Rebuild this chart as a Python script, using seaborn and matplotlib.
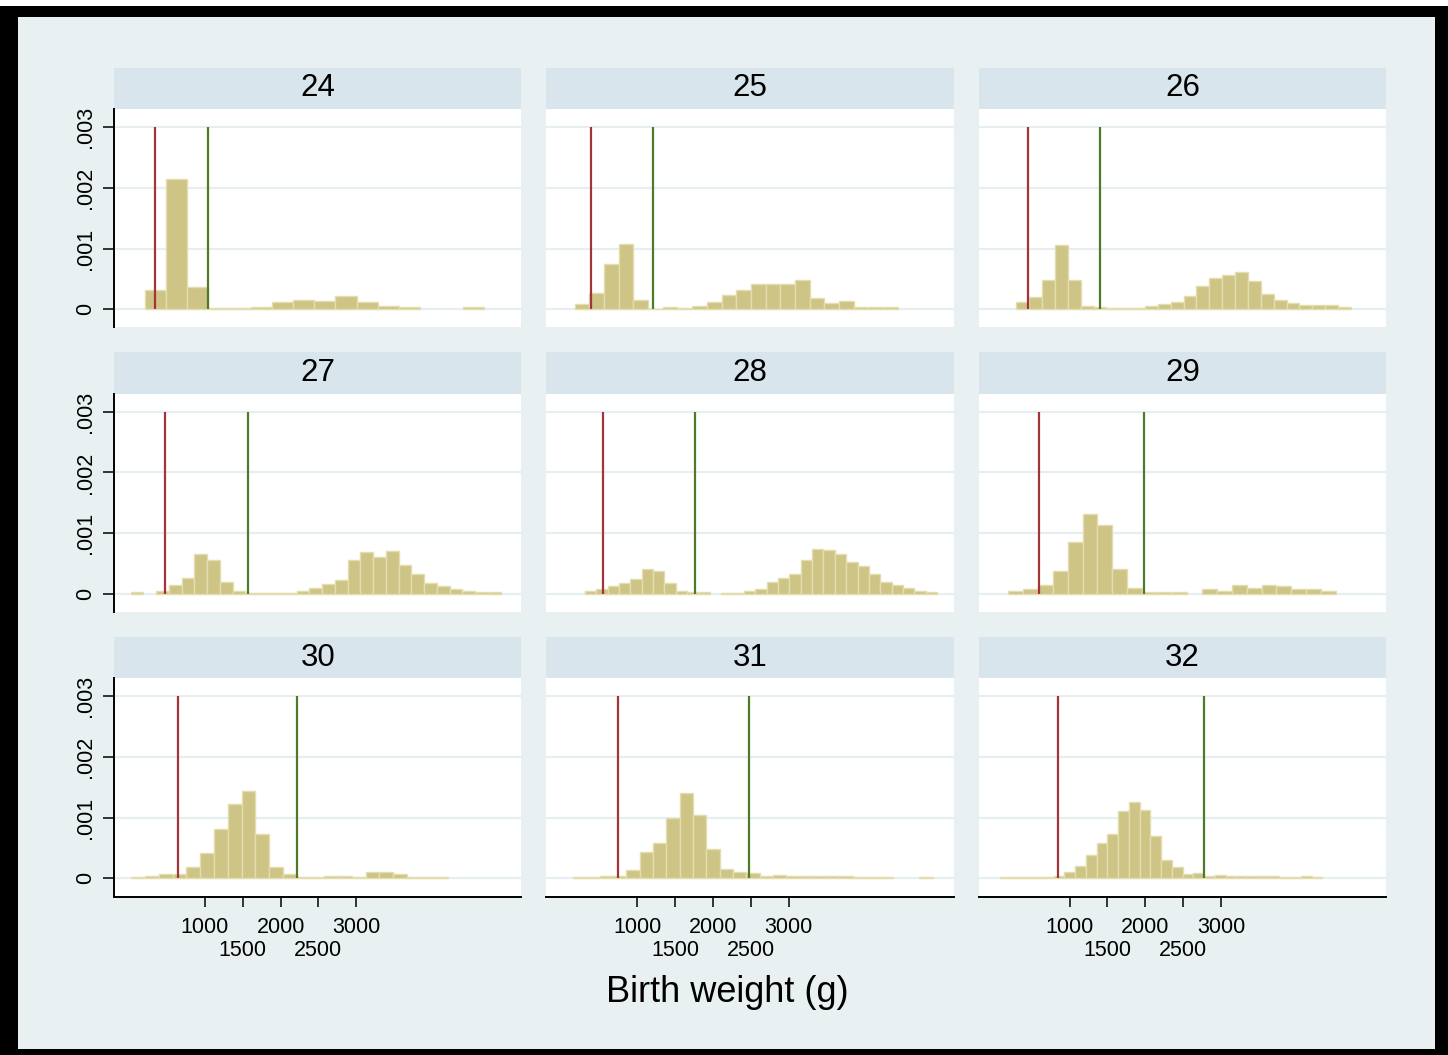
import numpy as np
import pandas as pd
import seaborn as sns
import matplotlib.pyplot as plt
from matplotlib.patches import Rectangle

# Birth weight histograms by gestational age (weeks)
ga_weeks = [24, 25, 26, 27, 28, 29, 30, 31, 32]

# bins per panel (g): first edge and bin width
bin_start = [205, 174, 297, 20, 310, 187, 29, 152, 81]
bin_width = [280, 194, 170, 168.5, 150, 197, 182, 176, 142]

# densities
dens_24 = [0.00032, 0.00215, 0.00037, 0.00002, 0.00002, 0.00004, 0.00012, 0.00015,
           0.00013, 0.00021, 0.00012, 0.00006, 0.00003, 0, 0, 0.00003]
dens_25 = [0.00008, 0.00026, 0.00074, 0.00108, 0.00015, 0.00001, 0.00003, 0.00002,
           0.00005, 0.00012, 0.00024, 0.00032, 0.00042, 0.00042, 0.00042, 0.00048,
           0.00019, 0.0001, 0.00013, 0.00003, 0.00003, 0.00003]
dens_26 = [0.00012, 0.0002, 0.00048, 0.00106, 0.00048, 0.00006, 0.00004, 0.00002,
           0.00002, 0.00002, 0.00006, 0.00008, 0.00012, 0.00021, 0.00039, 0.00052,
           0.00056, 0.00061, 0.00047, 0.00025, 0.00015, 0.0001, 0.00007, 0.00007,
           0.00007, 0.00004]
dens_27 = [0.00003, 0, 0.00005, 0.00014, 0.00026, 0.00066, 0.00055, 0.00019,
           0.00005, 0.00002, 0.00002, 0.00002, 0.00002, 0.00004, 0.0001, 0.00016,
           0.00023, 0.00056, 0.00069, 0.0006, 0.0007, 0.00048, 0.00032, 0.00017,
           0.00012, 0.00007, 0.00004, 0.00003, 0.00003]
dens_28 = [0.00004, 0.00007, 0.00013, 0.00018, 0.00024, 0.00041, 0.00037, 0.00017,
           0.00005, 0.00003, 0.00003, 0, 0.00002, 0.00002, 0.00005, 0.00007,
           0.00019, 0.00026, 0.00033, 0.00055, 0.00073, 0.00072, 0.00066, 0.00053,
           0.00045, 0.00032, 0.00019, 0.00014, 0.00009, 0.00005, 0.00003]
dens_29 = [0.00004, 0.00008, 0.00015, 0.00038, 0.00086, 0.00132, 0.00113, 0.00041,
           0.00009, 0.00003, 0.00003, 0.00003, 0, 0.00008, 0.00004, 0.00014,
           0.0001, 0.00014, 0.00012, 0.00008, 0.00007, 0.00004]
dens_30 = [0.00002, 0.00004, 0.00007, 0.00007, 0.00019, 0.00042, 0.00081, 0.00122,
           0.00144, 0.00073, 0.00018, 0.00007, 0.00002, 0.00002, 0.00004, 0.00004,
           0.00002, 0.0001, 0.0001, 0.00007, 0.00002, 0.00002, 0.00002]
dens_31 = [0.00002, 0.00002, 0.00004, 0.00004, 0.00013, 0.00043, 0.00059, 0.00099,
           0.0014, 0.00105, 0.00048, 0.00016, 0.0001, 0.00008, 0.00004, 0.00005,
           0.00003, 0.00003, 0.00003, 0.00003, 0.00003, 0.00002, 0.00002, 0.00002,
           0, 0, 0.00002]
dens_32 = [0.00002, 0.00002, 0.00002, 0.00002, 0.00002, 0.00004, 0.0001, 0.00021,
           0.00038, 0.00059, 0.00073, 0.00111, 0.00125, 0.00112, 0.00069, 0.0003,
           0.00018, 0.00007, 0.00008, 0.00004, 0.00005, 0.00003, 0.00003, 0.00003,
           0.00003, 0.00003, 0.00002, 0.00002, 0.00004, 0.00002]
dens_all = [dens_24, dens_25, dens_26, dens_27, dens_28, dens_29, dens_30, dens_31, dens_32]

# reference lines (g)
red_cut = [342, 393, 446, 479, 547, 596, 651, 749, 842]
green_cut = [1044, 1211, 1396, 1570, 1765, 1980, 2219, 2481, 2776]

# x labels alternate between two rows
xtick_upper = [1000, 2000, 3000]
xtick_lower = [1500, 2500]
ytick_vals = [0, 0.001, 0.002, 0.003]
ytick_labels = ["0", ".001", ".002", ".003"]

# long table: one row per bin
rows = []
for ga, start, width, dens in zip(ga_weeks, bin_start, bin_width, dens_all):
    for k, d in enumerate(dens):
        rows.append({"ga": ga, "bw": start + (k + 0.5) * width, "dens": d})
df = pd.DataFrame(rows)

sns.set_theme(style="white")
plt.rcParams["font.family"] = ["Liberation Sans", "DejaVu Sans"]
plt.rcParams["text.color"] = "black"
plt.rcParams["xtick.color"] = "black"
plt.rcParams["ytick.color"] = "black"

bg = "#e8f0f2"
hdr = "#d8e5ec"
bar_face = "#cdc486"
bar_edge = "#e4ddae"
red = "#a5343a"
green = "#4e7a2a"

W, H = 1448, 1055
fig, axes = plt.subplots(3, 3, figsize=(W / 100, H / 100), dpi=100)
fig.patch.set_facecolor("black")
fig.add_artist(Rectangle((18 / W, 1 - 1049 / H), (1435 - 18) / W, (1049 - 17) / H,
                         transform=fig.transFigure, facecolor=bg, edgecolor="none", zorder=-10))
fig.add_artist(Rectangle((0, 1 - 6 / H), 1, 6 / H, transform=fig.transFigure,
                         facecolor="white", edgecolor="none", zorder=-10))
fig.subplots_adjust(left=114 / W, right=1386 / W, bottom=1 - 896.5 / H, top=1 - 109 / H,
                    wspace=0.0614, hspace=0.303)

for i, ax in enumerate(axes.flat):
    r, c = divmod(i, 3)
    ga = ga_weeks[i]
    n_bins = len(dens_all[i])
    lo = bin_start[i]
    hi = bin_start[i] + bin_width[i] * n_bins
    sub = df[df["ga"] == ga]
    sns.histplot(data=sub, x="bw", weights="dens", binwidth=bin_width[i], binrange=(lo, hi),
                 stat="count", color=bar_face, edgecolor=bar_edge, linewidth=1.0, alpha=1,
                 ax=ax, zorder=2)
    for p in ax.patches:
        if p.get_height() == 0:
            p.set_visible(False)

    ax.vlines(red_cut[i], 0, 0.003, color=red, lw=1.6, zorder=3)
    ax.vlines(green_cut[i], 0, 0.003, color=green, lw=1.6, zorder=3)

    ax.set_facecolor("white")
    ax.set_xlim(-200, 5180)
    ax.set_ylim(-0.0003, 0.0033)
    ax.set_xlabel("")
    ax.set_ylabel("")

    ax.set_yticks(ytick_vals)
    ax.yaxis.grid(True, color="#e6eef1", linewidth=1.6)
    ax.xaxis.grid(False, which="both")
    ax.set_axisbelow(True)

    for s in ["top", "right"]:
        ax.spines[s].set_visible(False)
    ax.spines["left"].set_visible(c == 0)
    ax.spines["bottom"].set_visible(r == 2)
    for s in ["left", "bottom"]:
        ax.spines[s].set_color("black")
        ax.spines[s].set_linewidth(1.4)

    if c == 0:
        ax.set_yticklabels(ytick_labels, rotation=90, va="center", fontsize=15.5)
        ax.tick_params(axis="y", left=True, length=8, width=1.1, color="black", pad=5)
    else:
        ax.tick_params(axis="y", left=False, labelleft=False)

    ax.set_xticks(xtick_upper)
    ax.set_xticks(xtick_lower, minor=True)
    if r == 2:
        ax.set_xticklabels([str(v) for v in xtick_upper], fontsize=15.5)
        ax.set_xticklabels([str(v) for v in xtick_lower], minor=True, fontsize=15.5)
        ax.tick_params(axis="x", which="major", bottom=True, length=7.5, width=1.1,
                       color="black", pad=7)
        ax.tick_params(axis="x", which="minor", bottom=True, length=7.5, width=1.1,
                       color="black", pad=24)
    else:
        ax.tick_params(axis="x", which="both", bottom=False, labelbottom=False)

    # panel header strip
    strip_h = 41 / 218
    ax.add_artist(Rectangle((0, 1), 1, strip_h, transform=ax.transAxes, clip_on=False,
                            facecolor=hdr, edgecolor="none"))
    ax.text(0.5, 1 + strip_h / 2, str(ga), transform=ax.transAxes, ha="center",
            va="center", fontsize=22.5, color="black")

fig.text(727 / W, 1 - 993 / H, "Birth weight (g)", ha="center", va="center", fontsize=26)

fig.savefig("out.png", dpi=100, facecolor=fig.get_facecolor())
